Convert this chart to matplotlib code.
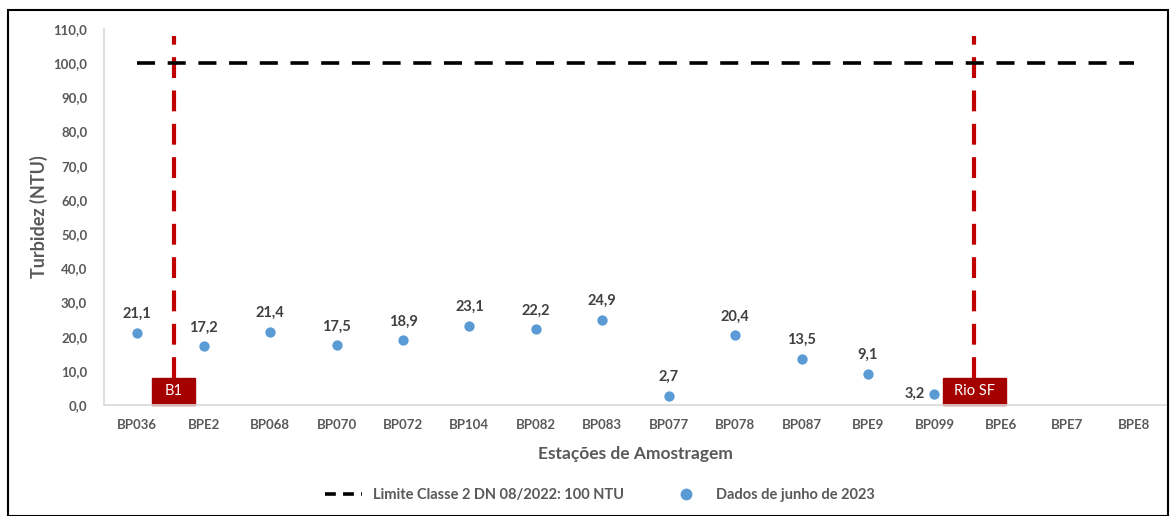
import matplotlib
matplotlib.use("Agg")
import matplotlib.pyplot as plt
from matplotlib.patches import Rectangle
from matplotlib.lines import Line2D

plt.rcParams['font.family'] = ['Lato', 'DejaVu Sans']

stations = ["BP036", "BPE2", "BP068", "BP070", "BP072", "BP104", "BP082", "BP083",
            "BP077", "BP078", "BP087", "BPE9", "BP099", "BPE6", "BPE7", "BPE8"]
turbidity = [21.1, 17.2, 21.4, 17.5, 18.9, 23.1, 22.2, 24.9, 2.7, 20.4, 13.5, 9.1, 3.2,
             None, None, None]
limit_value = 100.0
yticks = [0, 10, 20, 30, 40, 50, 60, 70, 80, 90, 100, 110]
markers_pos = [0.55, 12.6]
marker_labels = ["B1", "Rio SF"]
marker_box_widths = [0.65, 0.95]

gray = "#595959"
dark = "#404040"
blue = "#5B9BD5"
red = "#C00000"
boxred = "#A50000"

fig = plt.figure(figsize=(11.73, 5.16), dpi=100)
ax = fig.add_axes([104/1173, 1-405/516, (1167-104)/1173, (405-29)/516])

x = list(range(len(stations)))
ax.plot(x, [limit_value]*len(x), color="black", lw=2.6, dashes=(5, 3.5),
        label="Limite Classe 2 DN 08/2022: 100 NTU", zorder=3)

px = [i for i, v in zip(x, turbidity) if v is not None]
py = [v for v in turbidity if v is not None]
ax.scatter(px, py, s=55, color=blue, zorder=4, label="Dados de junho de 2023", linewidths=0)

for i, v in zip(px, py):
    lab = f"{v:.1f}".replace(".", ",")
    if stations[i] == "BP099":
        ax.annotate(lab, (i, v), xytext=(-7, 0), textcoords="offset points",
                    ha="right", va="center", fontsize=10.5, fontweight="bold", color=dark)
    else:
        ax.annotate(lab, (i, v), xytext=(0, 8.5), textcoords="offset points",
                    ha="center", va="bottom", fontsize=10.5, fontweight="bold", color=dark)

box_h = 8.0
for xp, lab, w in zip(markers_pos, marker_labels, marker_box_widths):
    ax.plot([xp, xp], [box_h, 108], color=red, lw=3, dashes=(5, 3), zorder=2)
    ax.add_patch(Rectangle((xp - w/2, 0), w, box_h, fc=boxred, ec=boxred, zorder=5,
                           clip_on=False))
    ax.text(xp, box_h/2, lab, ha="center", va="center", fontsize=10.5, color="white",
            zorder=6)

ax.set_xlim(-0.5, 15.5)
ax.set_ylim(0, 110)
ax.set_xticks(x)
ax.set_xticklabels(stations, fontsize=9.5, fontweight="bold", color=gray)
ax.set_yticks(yticks)
ax.set_yticklabels([f"{t:.1f}".replace(".", ",") for t in yticks],
                   fontsize=9.5, fontweight="bold", color=gray)
ax.tick_params(length=0, pad=10)
ax.tick_params(axis="y", pad=12)
for s in ["top", "right"]:
    ax.spines[s].set_visible(False)
for s in ["left", "bottom"]:
    ax.spines[s].set_color("#D9D9D9")
    ax.spines[s].set_linewidth(1.2)
ax.spines["bottom"].set_zorder(7)

ax.set_xlabel("Estações de Amostragem", fontsize=12.5, fontweight="bold", color=gray, labelpad=11)
ax.set_ylabel("Turbidez (NTU)", fontsize=13, fontweight="bold", color=gray, labelpad=4)

handles = [Line2D([0], [0], color="black", lw=2.6, dashes=(3, 2)),
           Line2D([0], [0], marker="o", color=blue, lw=0, markersize=7.5)]
fig.legend(handles, ["Limite Classe 2 DN 08/2022: 100 NTU", "Dados de junho de 2023"],
           loc="center", bbox_to_anchor=(600/1173, 1-495/516), ncol=2, frameon=False,
           labelcolor=gray, columnspacing=3.0, handlelength=2.5,
           prop=dict(weight="bold", size=10.5))

fig.patches.append(Rectangle((8/1173, 0), (1168-8)/1173, 1-10/516,
                             transform=fig.transFigure, fill=False, ec="black", lw=1.5))

fig.savefig("out.png", dpi=100)
